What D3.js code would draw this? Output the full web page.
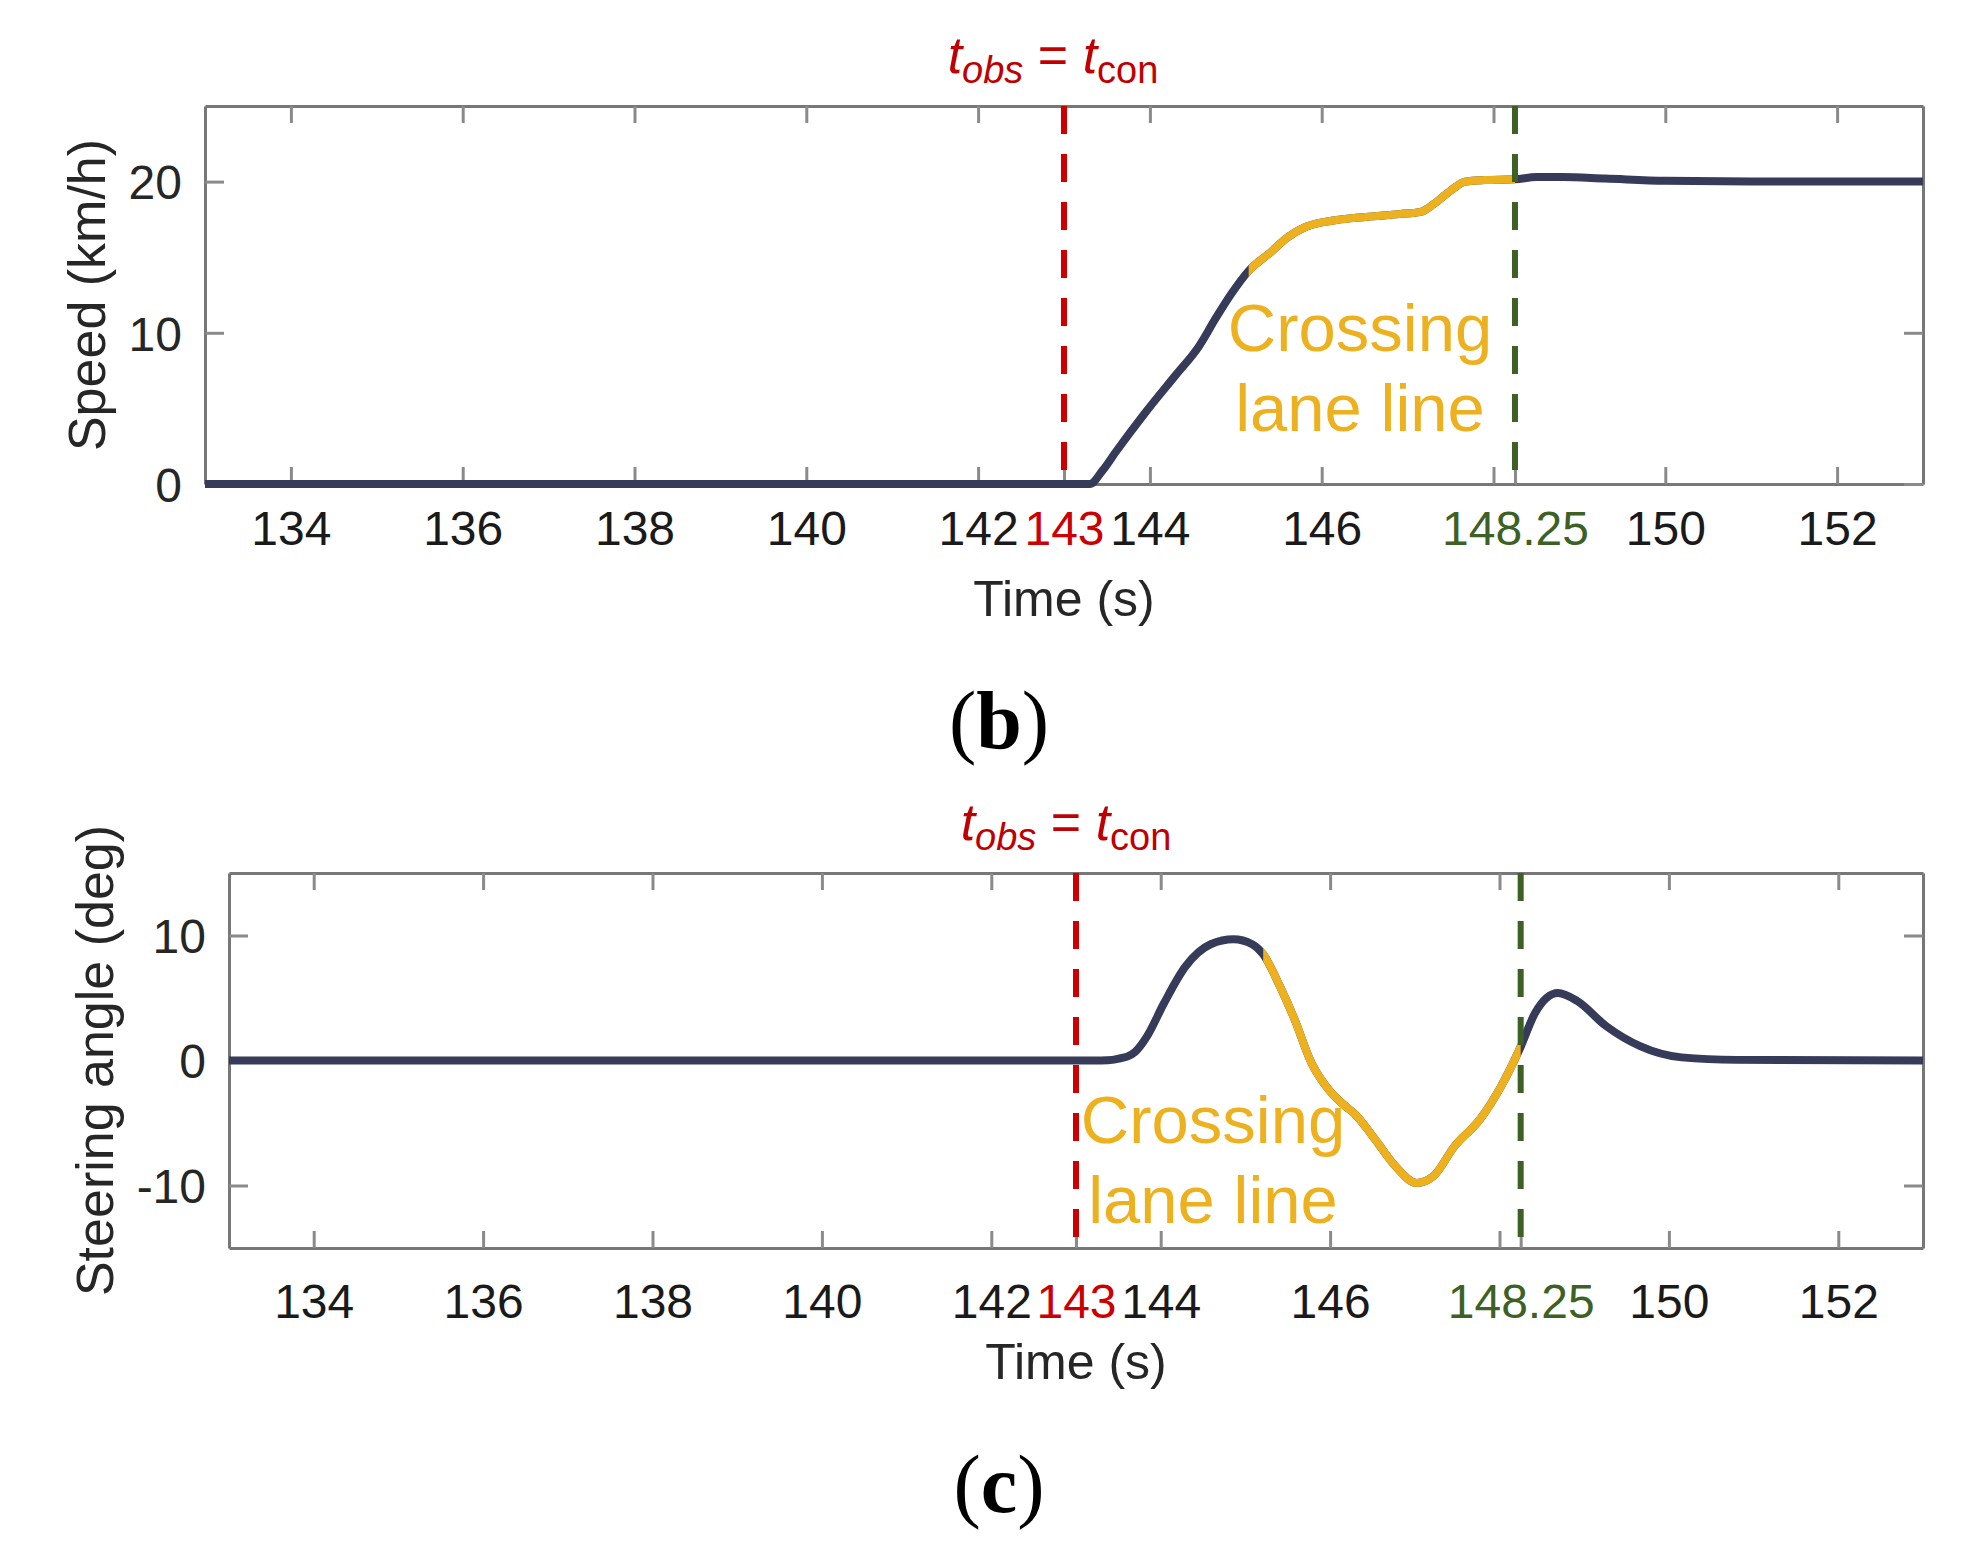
<!DOCTYPE html>
<html>
  <head>
    <meta charset="utf-8">
    <title>Speed and steering angle around lane crossing</title>
    <style>
      body { margin: 0; background: #fff; }
      svg { display: block; }
      .axis text { font-family: "Liberation Sans", Arial, sans-serif; fill: #262626; }
      .axis .domain { stroke: #777; stroke-width: 3px; }
      .axis .tick line { stroke: #8a8a8a; stroke-width: 3px; }
      .label { font-family: "Liberation Sans", Arial, sans-serif; fill: #262626; }
    </style>
  </head>
  <body>
    <svg width="1983" height="1558"></svg>
    <script src="https://d3js.org/d3.v7.min.js"></script>
    <script>
      // time axis
      const timeTicks = [134, 136, 138, 140, 142, 144, 146, 148, 150, 152];
      const tObs = 143;
      const tEnd = 148.25;

      // (b) speed, km/h
      const speedTime  = [133, 143.0, 143.3, 143.45, 143.6, 143.95, 144.3, 144.57, 144.77, 144.95, 145.15, 145.4, 145.6, 145.81, 146.0, 146.22, 146.6, 146.9, 147.15, 147.3, 147.5, 147.67, 147.9, 148.25, 148.5, 148.8, 149.3, 150.0, 151.0, 153];
      const speedValue = [0, 0, 0, 0.9, 2.1, 4.75, 7.2, 9.1, 11.0, 12.6, 14.1, 15.3, 16.3, 17.0, 17.3, 17.5, 17.7, 17.85, 18.0, 18.5, 19.4, 20.0, 20.1, 20.15, 20.3, 20.3, 20.2, 20.05, 20.0, 20.0];
      const speedTicks = [0, 10, 20];
      const speedCross = [145.15, 148.25];

      // (c) steering angle, deg
      const steerTime  = [133, 143.3, 143.6, 143.7, 143.84, 144.04, 144.29, 144.59, 144.86, 145.08, 145.21, 145.41, 145.58, 145.78, 145.98, 146.18, 146.28, 146.53, 146.77, 147.02, 147.22, 147.47, 147.77, 148.02, 148.25, 148.42, 148.69, 148.92, 149.26, 149.66, 150.15, 150.8, 153];
      const steerValue = [0, 0, 0.3, 0.7, 1.95, 4.6, 7.5, 9.3, 9.7, 9.3, 8.5, 5.9, 3.3, -0.2, -2.3, -3.65, -4.2, -6.3, -8.45, -9.8, -9.25, -6.85, -4.7, -2.05, 1.1, 3.8, 5.4, 4.75, 2.75, 1.15, 0.25, 0.05, 0];
      const steerTicks = [-10, 0, 10];
      const steerCross = [145.21, 148.25];

      const navy = "#363b5a", yellow = "#edb120", red = "#cc0000", green = "#3d6124";

      const svg = d3.select("svg");

      function drawPanel(p) {
        const g = svg.append("g");
        const x = d3.scaleLinear().domain([133, 153]).range([p.left, p.right]);
        const y = d3.scaleLinear().domain(p.yDomain).range([p.bottom, p.top]);
        const xVals = timeTicks.concat([tObs, tEnd]).sort((a, b) => a - b);

        // box with inward ticks on all four sides
        const xb = g.append("g").attr("class", "axis")
          .attr("transform", `translate(0,${p.bottom})`)
          .call(d3.axisBottom(x).tickValues(xVals).tickSizeInner(-17).tickSizeOuter(0)
            .tickPadding(p.xPad).tickFormat(d => d === 148 ? "" : String(d)));
        xb.selectAll("text").style("font-size", "48px")
          .style("fill", d => d === tObs ? red : d === tEnd ? green : "#1a1a1a");
        g.append("g").attr("class", "axis")
          .attr("transform", `translate(0,${p.top})`)
          .call(d3.axisTop(x).tickValues(xVals).tickSizeInner(-17).tickSizeOuter(0).tickFormat(""));
        const yl = g.append("g").attr("class", "axis")
          .attr("transform", `translate(${p.left},0)`)
          .call(d3.axisLeft(y).tickValues(p.yTicks).tickSizeInner(-19).tickSizeOuter(0)
            .tickPadding(23).tickFormat(d => String(d)));
        yl.selectAll("text").style("font-size", "48px").attr("dy", "0.36em");
        g.append("g").attr("class", "axis")
          .attr("transform", `translate(${p.right},0)`)
          .call(d3.axisRight(y).tickValues(p.yTicks).tickSizeInner(-19).tickSizeOuter(0).tickFormat(""));

        // curve: navy everywhere, yellow while crossing the lane line
        const pts = p.t.map((t, i) => [t, p.v[i]]);
        const line = d3.line().x(d => x(d[0])).y(d => y(d[1])).curve(d3.curveMonotoneX);
        const clipId = "clip" + p.id;
        g.append("clipPath").attr("id", clipId).append("rect")
          .attr("x", x(p.cross[0])).attr("width", x(p.cross[1]) - x(p.cross[0]))
          .attr("y", 0).attr("height", 1558);
        g.append("path").datum(pts).attr("d", line)
          .attr("fill", "none").attr("stroke", navy).attr("stroke-width", 8);
        g.append("path").datum(pts).attr("d", line).attr("clip-path", `url(#${clipId})`)
          .attr("fill", "none").attr("stroke", yellow).attr("stroke-width", 8);

        // annotation text
        const ann = g.append("text").attr("class", "label")
          .attr("text-anchor", "middle").style("font-size", "67px").style("fill", yellow);
        ann.append("tspan").attr("x", p.annX).attr("y", p.annY).text("Crossing");
        ann.append("tspan").attr("x", p.annX).attr("y", p.annY + 80).text("lane line");

        // event markers
        [[tObs, red], [tEnd, green]].forEach(([t, c]) => {
          g.append("line").attr("x1", x(t)).attr("x2", x(t))
            .attr("y1", p.top).attr("y2", p.bottom)
            .attr("stroke", c).attr("stroke-width", 6).attr("stroke-dasharray", "28,20");
        });

        // title t_obs = t_con
        const ti = g.append("text").attr("class", "label")
          .attr("x", p.titleX).attr("y", p.titleY).attr("text-anchor", "middle")
          .style("font-size", "52px").style("fill", "#c00000");
        ti.append("tspan").style("font-style", "italic").text("t");
        ti.append("tspan").style("font-style", "italic").style("font-size", "38px").attr("dy", 10).text("obs");
        ti.append("tspan").attr("dy", -10).text(" = ");
        ti.append("tspan").style("font-style", "italic").text("t");
        ti.append("tspan").style("font-size", "38px").attr("dy", 10).text("con");

        // axis titles
        g.append("text").attr("class", "label")
          .attr("transform", `translate(${p.yLabX},${(p.top + p.bottom) / 2}) rotate(-90)`)
          .attr("text-anchor", "middle").style("font-size", "52px").text(p.yLabel);
        g.append("text").attr("class", "label")
          .attr("x", (p.left + p.right) / 2).attr("y", p.xLabY)
          .attr("text-anchor", "middle").style("font-size", "50px").text("Time (s)");

        // panel letter
        const pl = svg.append("text").attr("x", 999).attr("y", p.letterY)
          .attr("text-anchor", "middle")
          .style("font-family", "'Liberation Serif', 'Times New Roman', serif")
          .style("font-size", "82px").style("fill", "#000");
        pl.append("tspan").text("(");
        pl.append("tspan").style("font-weight", "bold").text(p.letter);
        pl.append("tspan").text(")");
      }

      drawPanel({
        id: "b", left: 205, right: 1923, top: 106, bottom: 484,
        yDomain: [0, 25], yTicks: speedTicks, t: speedTime, v: speedValue, cross: speedCross,
        xPad: 27, annX: 1360, annY: 351, titleX: 1053, titleY: 73,
        yLabel: "Speed (km/h)", yLabX: 105, xLabY: 616, letter: "b", letterY: 748
      });
      drawPanel({
        id: "c", left: 229, right: 1923, top: 873, bottom: 1248,
        yDomain: [-15, 15], yTicks: steerTicks, t: steerTime, v: steerValue, cross: steerCross,
        xPad: 36, annX: 1213, annY: 1143, titleX: 1066, titleY: 840,
        yLabel: "Steering angle (deg)", yLabX: 113, xLabY: 1379, letter: "c", letterY: 1512
      });
    </script>
  </body>
</html>
